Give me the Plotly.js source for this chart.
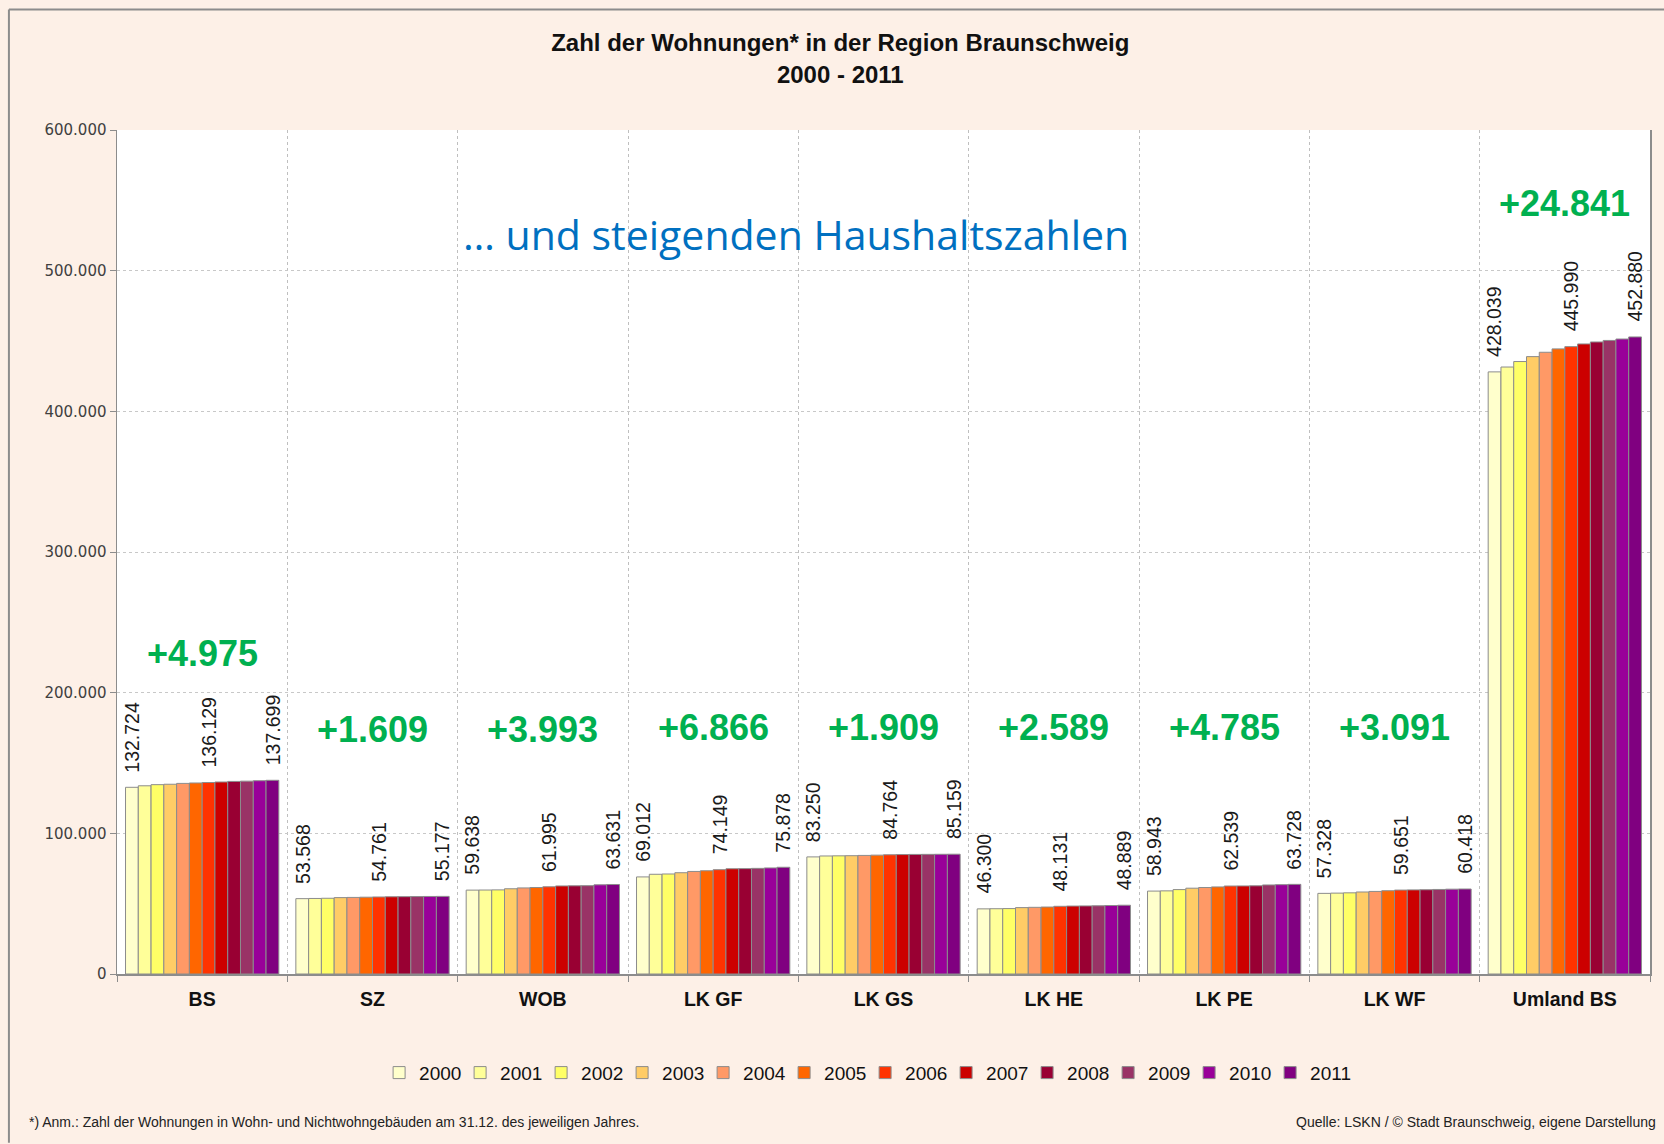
<!DOCTYPE html>
<html>
<head>
<meta charset="utf-8">
<script src="https://cdn.plot.ly/plotly-3.0.1.min.js"></script>
<style>
  html, body { margin: 0; padding: 0; background: #FDF0E7; }
  #chart { width: 1664px; height: 1144px; }
</style>
</head>
<body>
<div id="chart"></div>
<script>
// ---- Data ----
const categories = ['BS', 'SZ', 'WOB', 'LK GF', 'LK GS', 'LK HE', 'LK PE', 'LK WF', 'Umland BS'];
const years = ['2000', '2001', '2002', '2003', '2004', '2005', '2006', '2007', '2008', '2009', '2010', '2011'];

const BS     = [132724, 133800, 134600, 134900, 135500, 135800, 136129, 136500, 136900, 137100, 137400, 137699];
const SZ     = [53568, 53700, 53850, 54300, 54450, 54600, 54761, 54900, 54980, 55050, 55120, 55177];
const WOB    = [59638, 59700, 59800, 60600, 61200, 61500, 61995, 62600, 62700, 62800, 63400, 63631];
const LK_GF  = [69012, 70900, 71100, 72000, 72900, 73400, 74149, 74800, 74900, 75100, 75400, 75878];
const LK_GS  = [83250, 83900, 84000, 84100, 84300, 84500, 84764, 84900, 85000, 85050, 85100, 85159];
const LK_HE  = [46300, 46400, 46500, 47200, 47400, 47600, 48131, 48300, 48400, 48500, 48700, 48889];
const LK_PE  = [58943, 59100, 60000, 61000, 61500, 61900, 62539, 62600, 62700, 63300, 63500, 63728];
const LK_WF  = [57328, 57500, 57700, 58300, 58700, 59200, 59651, 59800, 59900, 60100, 60300, 60418];
const UMLAND = [428039, 431500, 435400, 438900, 442000, 444400, 445990, 447900, 449300, 450400, 451400, 452880];

const growthLabels = ['+4.975', '+1.609', '+3.993', '+6.866', '+1.909', '+2.589', '+4.785', '+3.091', '+24.841'];
const labeledYears = ['2000', '2006', '2011'];

// ---- Styling ----
const regions = [BS, SZ, WOB, LK_GF, LK_GS, LK_HE, LK_PE, LK_WF, UMLAND];
const colors = ['#FFFFCC', '#FFFF99', '#FFFF66', '#FFCC66', '#FF9966', '#FF6600',
                '#FF3300', '#CC0000', '#990033', '#993366', '#990099', '#800080'];
const growthY = [228000, 174000, 174000, 175500, 175500, 175500, 175500, 175500, 548000];
const bargap = 0.1;
const slot = (1 - bargap) / years.length;

function fmtDE(v) {
  return String(v).replace(/\B(?=(\d{3})+(?!\d))/g, '.');
}

const traces = years.map((yr, j) => ({
  type: 'bar',
  name: yr,
  x: categories,
  y: regions.map(r => r[j]),
  marker: { color: colors[j], line: { color: '#8C8C8C', width: 1 } },
  hoverinfo: 'x+y+name'
}));

const annotations = [];

// rotated value labels
years.forEach((yr, j) => {
  if (!labeledYears.includes(yr)) return;
  regions.forEach((r, i) => {
    annotations.push({
      x: i + (j - (years.length - 1) / 2) * slot,
      y: r[j],
      xref: 'x', yref: 'y',
      text: fmtDE(r[j]),
      showarrow: false,
      textangle: -90,
      xanchor: 'center', yanchor: 'bottom',
      yshift: 13,
      font: { family: 'Liberation Sans, Arial, sans-serif', size: 19.5, color: '#1a1a1a' }
    });
  });
});

// green growth labels
categories.forEach((c, i) => {
  annotations.push({
    x: i, y: growthY[i], xref: 'x', yref: 'y',
    text: '<b>' + growthLabels[i] + '</b>',
    showarrow: false, xanchor: 'center', yanchor: 'middle',
    font: { family: 'Liberation Sans, Arial, sans-serif', size: 36, color: '#00B050' }
  });
});

// blue headline inside plot
annotations.push({
  x: 0.443, y: 0.877, xref: 'paper', yref: 'paper',
  text: '… und steigenden Haushaltszahlen',
  showarrow: false, xanchor: 'center', yanchor: 'middle',
  font: { family: 'Open Sans, sans-serif', size: 41, color: '#0070C0' }
});

// footer notes
annotations.push({
  x: -0.0587, y: -0.175, xref: 'paper', yref: 'paper',
  text: '*) Anm.: Zahl der Wohnungen in Wohn- und Nichtwohngebäuden am 31.12. des jeweiligen Jahres.',
  showarrow: false, xanchor: 'left', yanchor: 'middle',
  font: { family: 'Liberation Sans, sans-serif', size: 14, color: '#222' }
});
annotations.push({
  x: 1.005, y: -0.175, xref: 'paper', yref: 'paper',
  text: 'Quelle: LSKN / © Stadt Braunschweig, eigene Darstellung',
  showarrow: false, xanchor: 'right', yanchor: 'middle',
  font: { family: 'Liberation Sans, sans-serif', size: 14, color: '#222' }
});

const layout = {
  width: 1664,
  height: 1144,
  paper_bgcolor: '#FDF0E7',
  plot_bgcolor: '#FFFFFF',
  separators: ',.',
  margin: { l: 117, r: 14, t: 129.5, b: 170, pad: 0 },
  barmode: 'group',
  bargap: bargap,
  bargroupgap: 0,
  title: {
    text: '<b>Zahl der Wohnungen* in der Region Braunschweig<br>2000 - 2011</b>',
    x: 0.505, xanchor: 'center',
    y: 0.955, yanchor: 'top', yref: 'container',
    font: { family: 'Liberation Sans, Arial, sans-serif', size: 24, color: '#111' }
  },
  xaxis: {
    type: 'category',
    tickson: 'boundaries',
    ticks: 'outside', ticklen: 6, tickcolor: '#8C8C8C',
    ticklabelstandoff: 7,
    showgrid: true, gridcolor: '#BFBFBF', griddash: 'dot', gridwidth: 1,
    showline: true, linecolor: '#8C8C8C', linewidth: 1.5,
    tickfont: { family: 'Liberation Sans, Arial, sans-serif', size: 19.5, color: '#111', weight: 'bold' },
    fixedrange: true
  },
  yaxis: {
    range: [0, 600000],
    dtick: 100000,
    tickformat: ',d',
    ticks: 'outside', ticklen: 6, tickcolor: '#8C8C8C',
    showgrid: true, gridcolor: '#C8C8C8', griddash: 'dot', gridwidth: 1,
    showline: true, mirror: true, linecolor: '#8C8C8C', linewidth: 1.5,
    zeroline: false,
    tickfont: { family: 'DejaVu Sans, sans-serif', size: 15, color: '#404040' },
    fixedrange: true
  },
  legend: {
    orientation: 'h',
    x: 0.488, xanchor: 'center',
    y: -0.117, yanchor: 'middle',
    bgcolor: 'rgba(0,0,0,0)',
    itemwidth: 30,
    entrywidthmode: 'pixels',
    entrywidth: 36,
    font: { family: 'Liberation Sans, Arial, sans-serif', size: 19, color: '#111' },
    traceorder: 'normal'
  },
  annotations: annotations,
  shapes: [
    { type: 'line', xref: 'paper', yref: 'paper', x0: -0.0705, x1: -0.0705, y0: -0.2, y1: 1.1427,
      line: { color: '#8C8C8C', width: 2 } },
    { type: 'line', xref: 'paper', yref: 'paper', x0: -0.0705, x1: 1.01, y0: 1.1427, y1: 1.1427,
      line: { color: '#8C8C8C', width: 2 } }
  ],
  showlegend: true
};

Plotly.newPlot('chart', traces, layout, { displayModeBar: false, staticPlot: true });
</script>
</body>
</html>
